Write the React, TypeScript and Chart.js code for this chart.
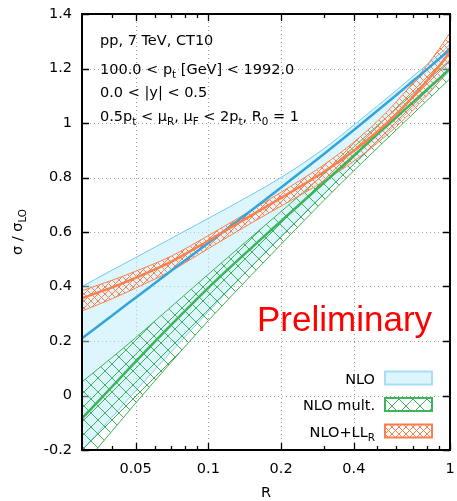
import React, { useEffect, useRef } from 'react';
import { Chart, registerables } from 'chart.js';

Chart.register(...registerables);

// ---- data ----
const R = [0.03, 0.04, 0.05, 0.07, 0.1, 0.15, 0.2, 0.3, 0.4, 0.5, 0.6, 0.7, 0.8, 0.9, 1.0];

const nloCentral = [0.21, 0.294, 0.359, 0.457, 0.56, 0.678, 0.763, 0.885, 0.974, 1.045, 1.103, 1.153, 1.196, 1.235, 1.27];
const nloUpper = [0.4, 0.46, 0.506, 0.576, 0.65, 0.736, 0.8, 0.905, 0.992, 1.062, 1.12, 1.17, 1.213, 1.252, 1.29];
const nloLower = [-0.2, -0.078, 0.017, 0.16, 0.308, 0.472, 0.585, 0.74, 0.848, 0.93, 0.998, 1.056, 1.106, 1.15, 1.19];

const multCentral = [-0.084, 0.033, 0.124, 0.258, 0.395, 0.54, 0.64, 0.78, 0.88, 0.958, 1.021, 1.075, 1.121, 1.162, 1.199];
const multUpper = [0.05, 0.14, 0.212, 0.325, 0.445, 0.58, 0.675, 0.812, 0.912, 0.99, 1.053, 1.107, 1.153, 1.194, 1.231];
const multLower = [-0.26, -0.13, -0.028, 0.121, 0.275, 0.44, 0.555, 0.715, 0.825, 0.908, 0.975, 1.032, 1.081, 1.124, 1.163];

const llCentral = [0.357, 0.397, 0.432, 0.49, 0.568, 0.66, 0.725, 0.82, 0.898, 0.968, 1.033, 1.095, 1.153, 1.208, 1.261];
const llUpper = [0.385, 0.423, 0.456, 0.511, 0.587, 0.679, 0.746, 0.846, 0.93, 1.006, 1.078, 1.146, 1.21, 1.271, 1.331];
const llLower = [0.31, 0.355, 0.394, 0.457, 0.539, 0.632, 0.695, 0.786, 0.86, 0.926, 0.987, 1.045, 1.099, 1.151, 1.201];

const xMajorTicks = [0.05, 0.1, 0.2, 0.4, 1];
const xMajorLabels = ['0.05', '0.1', '0.2', '0.4', '1'];
const xMinorTicks = [0.04, 0.06, 0.07, 0.08, 0.09, 0.3, 0.5, 0.6, 0.7, 0.8, 0.9];
const yTicks = [-0.2, 0, 0.2, 0.4, 0.6, 0.8, 1, 1.2, 1.4];
const yLabels = ['-0.2', '0', '0.2', '0.4', '0.6', '0.8', '1', '1.2', '1.4'];

type Part = [string, boolean];
const annotationLines: Part[][] = [
  [['pp, 7 TeV, CT10', false]],
  [['100.0 < p', false], ['t', true], [' [GeV] < 1992.0', false]],
  [['0.0 < |y| < 0.5', false]],
  [['0.5p', false], ['t', true], [' < \u03bc', false], ['R', true], [', \u03bc', false], ['F', true], [' < 2p', false], ['t', true], [', R', false], ['0', true], [' = 1', false]],
];
const legendLabels: Part[][] = [
  [['NLO', false]],
  [['NLO mult.', false]],
  [['NLO+LL', false], ['R', true]],
];
const yTitle: Part[] = [['\u03c3 / \u03c3', false], ['LO', true]];
const xTitle = 'R';
const watermark = 'Preliminary';

// ---- styles ----
const FONT = '"DejaVu Sans"';
const FS = 14.5;
const BLUE_LINE = '#34a5da';
const BLUE_EDGE = '#6fc9ee';
const BLUE_FILL = 'rgba(187,235,249,0.5)';
const GREEN = '#3cb45a';
const ORANGE = '#ff7f4c';

function makeHatch(color: string, size: number, lw: number) {
  const c = document.createElement('canvas');
  c.width = size;
  c.height = size;
  const g = c.getContext('2d')!;
  g.strokeStyle = color;
  g.lineWidth = lw;
  g.beginPath();
  for (const off of [-size, 0, size]) {
    g.moveTo(off, 0);
    g.lineTo(off + size, size);
    g.moveTo(off, size);
    g.lineTo(off + size, 0);
  }
  g.stroke();
  return g.createPattern(c, 'repeat')!;
}

function richWidth(ctx: CanvasRenderingContext2D, parts: Part[], size: number) {
  let w = 0;
  for (const [t, sub] of parts) {
    ctx.font = `${sub ? size * 0.72 : size}px ${FONT}`;
    w += ctx.measureText(t).width;
  }
  return w;
}

function drawRich(ctx: CanvasRenderingContext2D, parts: Part[], x: number, y: number, size: number, align: 'left' | 'right' | 'center') {
  const w = richWidth(ctx, parts, size);
  let cx = align === 'left' ? x : align === 'right' ? x - w : x - w / 2;
  ctx.textAlign = 'left';
  ctx.textBaseline = 'alphabetic';
  for (const [t, sub] of parts) {
    ctx.font = `${sub ? size * 0.72 : size}px ${FONT}`;
    ctx.fillText(t, cx, sub ? y + size * 0.28 : y);
    cx += ctx.measureText(t).width;
  }
}

const pts = (ys: number[]) => R.map((x, i) => ({ x, y: ys[i] }));

export default function App() {
  const ref = useRef<HTMLCanvasElement>(null);

  useEffect(() => {
    const canvas = ref.current!;
    const greenPat = makeHatch(GREEN, 14, 1);
    const orangePat = makeHatch(ORANGE, 7, 1);

    const framePlugin = {
      id: 'gnuframe',
      beforeDatasetsDraw(chart: any) {
        const { ctx, chartArea: a, scales } = chart;
        const x = scales.x, y = scales.y;
        ctx.save();
        ctx.strokeStyle = '#a0a0a0';
        ctx.lineWidth = 1;
        ctx.setLineDash([1, 3]);
        ctx.beginPath();
        for (const v of xMajorTicks) {
          const px = Math.round(x.getPixelForValue(v)) + 0.5;
          if (px > a.left + 2 && px < a.right - 2) {
            ctx.moveTo(px, a.top);
            ctx.lineTo(px, a.bottom);
          }
        }
        for (const v of yTicks) {
          const py = Math.round(y.getPixelForValue(v)) + 0.5;
          if (py > a.top + 2 && py < a.bottom - 2) {
            ctx.moveTo(a.left, py);
            ctx.lineTo(a.right, py);
          }
        }
        ctx.stroke();
        ctx.setLineDash([]);
        ctx.strokeStyle = '#000';
        ctx.lineWidth = 1.3;
        ctx.beginPath();
        const xt = (vals: number[], len: number) => {
          for (const v of vals) {
            const px = Math.round(x.getPixelForValue(v)) + 0.5;
            ctx.moveTo(px, a.bottom);
            ctx.lineTo(px, a.bottom - len);
            ctx.moveTo(px, a.top);
            ctx.lineTo(px, a.top + len);
          }
        };
        xt(xMajorTicks, 7);
        xt(xMinorTicks, 4);
        for (const v of yTicks) {
          const py = Math.round(y.getPixelForValue(v)) + 0.5;
          ctx.moveTo(a.left, py);
          ctx.lineTo(a.left + 7, py);
          ctx.moveTo(a.right, py);
          ctx.lineTo(a.right - 7, py);
        }
        ctx.stroke();
        ctx.restore();
      },
      afterDatasetsDraw(chart: any) {
        const { ctx, chartArea: a, scales } = chart;
        const x = scales.x, y = scales.y;
        ctx.save();
        // border
        ctx.strokeStyle = '#000';
        ctx.lineWidth = 2;
        ctx.strokeRect(a.left, a.top, a.right - a.left, a.bottom - a.top);
        // tick labels
        ctx.fillStyle = '#000';
        ctx.font = `${FS}px ${FONT}`;
        ctx.textAlign = 'right';
        ctx.textBaseline = 'middle';
        yTicks.forEach((v, i) => ctx.fillText(yLabels[i], a.left - 10, y.getPixelForValue(v)));
        ctx.textAlign = 'center';
        xMajorTicks.forEach((v, i) => ctx.fillText(xMajorLabels[i], x.getPixelForValue(v), a.bottom + 19));
        // axis titles
        ctx.fillText(xTitle, (a.left + a.right) / 2, a.bottom + 43);
        ctx.save();
        ctx.translate(22, (a.top + a.bottom) / 2);
        ctx.rotate(-Math.PI / 2);
        drawRich(ctx, yTitle, 0, 0, FS, 'center');
        ctx.restore();
        // annotations
        const baselines = [45, 74, 97, 121];
        annotationLines.forEach((ln, i) => drawRich(ctx, ln, 100, baselines[i], FS, 'left'));
        // watermark
        ctx.fillStyle = '#ff0000';
        ctx.font = '35px "Liberation Sans"';
        ctx.textAlign = 'left';
        ctx.textBaseline = 'alphabetic';
        ctx.fillText(watermark, 257, 331);
        // legend
        const centers = [378, 404.5, 431];
        const fills: any[] = [BLUE_FILL, greenPat, orangePat];
        const borders = ['#a6def4', GREEN, ORANGE];
        legendLabels.forEach((lab, i) => {
          ctx.fillStyle = '#000';
          drawRich(ctx, lab, 375, centers[i] + 5.5, FS, 'right');
          const bx = 385, bw = 47, bh = 13, by = centers[i] - bh / 2;
          ctx.fillStyle = '#fff';
          ctx.fillRect(bx, by, bw, bh);
          ctx.fillStyle = fills[i];
          ctx.fillRect(bx, by, bw, bh);
          ctx.strokeStyle = borders[i];
          ctx.lineWidth = 2;
          ctx.strokeRect(bx, by, bw, bh);
        });
        ctx.restore();
      },
    };

    const edge = (data: number[], color: string, order: number, fill: any = false, bg: any = 'transparent') => ({
      data: pts(data),
      borderColor: color,
      borderWidth: 1,
      pointRadius: 0,
      fill,
      backgroundColor: bg,
      cubicInterpolationMode: 'monotone',
      order,
    });
    const central = (data: number[], color: string, order: number) => ({
      data: pts(data),
      borderColor: color,
      borderWidth: 2.5,
      pointRadius: 0,
      fill: false,
      cubicInterpolationMode: 'monotone',
      order,
    });

    const chart = new Chart(canvas, {
      type: 'line',
      data: {
        datasets: [
          edge(nloLower, BLUE_EDGE, 100),
          edge(nloUpper, BLUE_EDGE, 99, '-1', BLUE_FILL),
          edge(multLower, GREEN, 90),
          edge(multUpper, GREEN, 89, '-1', greenPat),
          edge(llLower, ORANGE, 80),
          edge(llUpper, ORANGE, 79, '-1', orangePat),
          central(multCentral, GREEN, 10),
          central(nloCentral, BLUE_LINE, 9),
          central(llCentral, ORANGE, 8),
        ] as any,
      },
      options: {
        animation: false,
        responsive: false,
        devicePixelRatio: 1,
        layout: { padding: { left: 82, top: 14, right: 7, bottom: 51 } },
        plugins: { legend: { display: false }, tooltip: { enabled: false } },
        scales: {
          x: { type: 'logarithmic', min: 0.03, max: 1, display: false },
          y: { type: 'linear', min: -0.2, max: 1.4, display: false },
        },
      } as any,
      plugins: [framePlugin],
    });
    return () => chart.destroy();
  }, []);

  return (
    <canvas
      ref={ref}
      width={457}
      height={501}
      style={{ position: 'fixed', left: 0, top: 0, width: 457, height: 501, background: '#fff' }}
    />
  );
}
